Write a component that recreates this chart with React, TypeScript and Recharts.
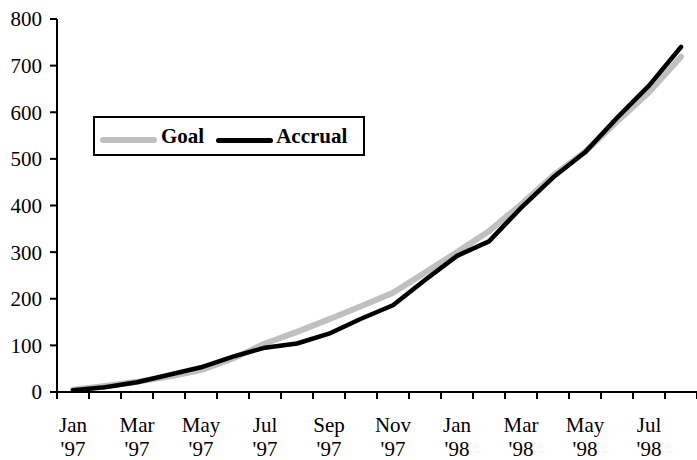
import React from 'react';
import { LineChart, Line, XAxis, YAxis } from 'recharts';

const months = ['Jan', 'Feb', 'Mar', 'Apr', 'May', 'Jun', 'Jul', 'Aug', 'Sep', 'Oct', 'Nov', 'Dec',
  'Jan', 'Feb', 'Mar', 'Apr', 'May', 'Jun', 'Jul', 'Aug'];
const years = ["'97", "'97", "'97", "'97", "'97", "'97", "'97", "'97", "'97", "'97", "'97", "'97",
  "'98", "'98", "'98", "'98", "'98", "'98", "'98", "'98"];
const goal = [5, 13, 22, 33, 47, 72, 104, 129, 156, 184, 213, 256, 300, 345, 402, 464, 515, 580, 643, 719];
const accrual = [4, 10, 21, 37, 53, 76, 95, 104, 125, 157, 186, 240, 292, 323, 395, 460, 514, 588, 657, 740];
const yTicks = [0, 100, 200, 300, 400, 500, 600, 700, 800];
const xTicks = Array.from({ length: months.length + 1 }, (_, i) => i);

// points sit in the middle of each month slot, tick marks between them
const data = months.map((m, i) => ({
  x: i + 0.5,
  goal: goal[i],
  accrual: accrual[i],
}));

const font = '"Liberation Serif", "Times New Roman", serif';
const slot = 640 / months.length;

const MonthTick = (props: any) => {
  const { x, y, payload } = props;
  const i = payload.value;
  if (i % 2 !== 0 || i >= months.length) return null;
  return (
    <g>
      <text x={x + slot / 2} y={y + 31} textAnchor="middle" fontFamily={font} fontSize={21} fill="#000">
        {months[i]}
      </text>
      <text x={x + slot / 2} y={y + 55} textAnchor="middle" fontFamily={font} fontSize={21} fill="#000">
        {years[i]}
      </text>
    </g>
  );
};

const legendLine = (color: string, w: number) => (
  <span style={{ display: 'inline-block', width: 57, height: w, background: color, borderRadius: w / 2 }} />
);

export default function App() {
  return (
    <div style={{ position: 'absolute', left: 0, top: 0, width: 697, height: 460, background: '#fff' }}>
      <LineChart width={697} height={460} data={data} margin={{ top: 19, right: 0, bottom: 0, left: 0 }}>
        <XAxis
          dataKey="x"
          type="number"
          domain={[0, months.length]}
          ticks={xTicks}
          interval={0}
          height={68}
          tickSize={7}
          axisLine={{ stroke: '#000', strokeWidth: 2 }}
          tickLine={{ stroke: '#000', strokeWidth: 2 }}
          tick={<MonthTick />}
        />
        <YAxis
          domain={[0, 800]}
          ticks={yTicks}
          width={57}
          tickSize={7}
          tickMargin={8}
          axisLine={{ stroke: '#000', strokeWidth: 2 }}
          tickLine={{ stroke: '#000', strokeWidth: 2 }}
          tick={{ fill: '#000', fontSize: 21, fontFamily: font }}
        />
        <Line
          dataKey="goal"
          stroke="#c0c0c0"
          strokeWidth={6}
          dot={false}
          type="linear"
          strokeLinejoin="round"
          strokeLinecap="round"
          isAnimationActive={false}
        />
        <Line
          dataKey="accrual"
          stroke="#000"
          strokeWidth={4.5}
          dot={false}
          type="linear"
          strokeLinejoin="round"
          strokeLinecap="round"
          isAnimationActive={false}
        />
      </LineChart>
      <div
        style={{
          position: 'absolute',
          left: 93,
          top: 116,
          width: 268,
          height: 36,
          border: '2px solid #000',
          display: 'flex',
          alignItems: 'center',
          fontFamily: font,
          fontWeight: 'bold',
          fontSize: 21,
          background: '#fff',
        }}
      >
        <span style={{ marginLeft: 5 }}>{legendLine('#c0c0c0', 6)}</span>
        <span style={{ marginLeft: 4 }}>Goal</span>
        <span style={{ marginLeft: 12 }}>{legendLine('#000', 5)}</span>
        <span style={{ marginLeft: 3 }}>Accrual</span>
      </div>
    </div>
  );
}
